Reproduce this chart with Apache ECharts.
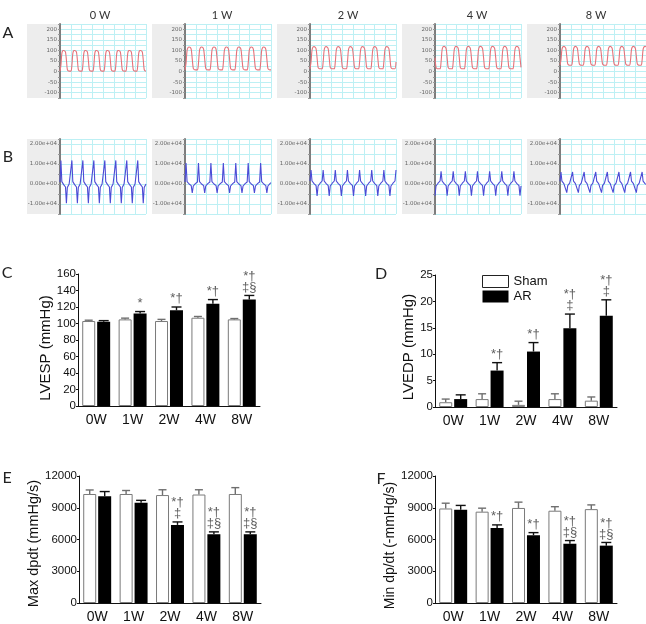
<!DOCTYPE html>
<html>
<head>
<meta charset="utf-8">
<script src="https://cdn.jsdelivr.net/npm/echarts@6/dist/echarts.min.js"></script>
<style>
  html, body { margin: 0; padding: 0; background: #fff; }
  #chart { width: 646px; height: 624px; }
</style>
</head>
<body>
<div id="chart"></div>
<script>
// time points
const weeks = ['0 W', '1 W', '2 W', '4 W', '8 W'];
const categories = ['0W', '1W', '2W', '4W', '8W'];

// A: LV pressure, one beat per array (mmHg)
const pressureBeat0W = [2, 30, 85, 99, 100, 98, 92, 55, 10, 3, 2, 2];
const pressureBeat1W = [8, 40, 100, 114, 116, 114, 105, 60, 15, 9, 8, 8];
const pressureBeat2W = [13, 45, 102, 116, 118, 116, 108, 65, 20, 14, 13, 13];
const pressureBeat4W = [13, 45, 103, 117, 119, 117, 109, 66, 20, 14, 13, 13];
const pressureBeat8W = [30, 55, 105, 117, 119, 117, 110, 72, 36, 31, 30, 30];
// B: dP/dt, one beat per array (mmHg/s)
const dpdtBeat0W = [1000, 11800, 1200, 300, -300, -900, -1500, -9600, -1800, -800, 0, 600];
const dpdtBeat1W = [1000, 10500, 1200, 400, 0, -400, -800, -4500, -1000, -400, 200, 700];
const dpdtBeat2W = [1500, 7000, 1500, 800, 200, -300, -800, -6000, -1000, -300, 400, 1000];
const dpdtBeat4W = [1500, 6400, 1500, 800, 200, -300, -800, -5800, -1000, -300, 400, 1000];
const dpdtBeat8W = [1400, 6000, 1400, 800, 200, -200, -600, -4300, -800, -200, 400, 900];
// samples shown in each trace window and starting phase
const traceSamples = [95, 84, 86, 86, 90];
const tracePhase = [0, 0, 0, 7, 0];

// C: LVESP (mmHg)
const lvespSham = [103, 105, 103, 107, 105];
const lvespShamErr = [1, 1.5, 2, 1.5, 1];
const lvespAR = [102, 112, 116, 124, 129];
const lvespARErr = [1.5, 2.5, 4, 5, 5];
const lvespMarks = [[], ['*'], ['*†'], ['*†'], ['*†', '‡§']];

// D: LVEDP (mmHg)
const lvedpSham = [0.9, 1.5, 0.4, 1.5, 1.2];
const lvedpShamErr = [0.6, 1, 0.7, 1, 0.7];
const lvedpAR = [1.5, 6.9, 10.5, 14.9, 17.3];
const lvedpARErr = [0.8, 1.5, 1.7, 2.7, 3];
const lvedpMarks = [[], ['*†'], ['*†'], ['*†', '‡'], ['*†', '‡']];

// E: Max dp/dt (mmHg/s)
const maxSham = [10300, 10300, 10200, 10250, 10300];
const maxShamErr = [380, 330, 500, 450, 600];
const maxAR = [10080, 9480, 7380, 6500, 6500];
const maxARErr = [450, 220, 280, 220, 220];
const maxMarks = [[], [], ['*†', '‡'], ['*†', '‡§'], ['*†', '‡§']];

// F: Min dp/dt (-mmHg/s)
const minSham = [8930, 8630, 8980, 8720, 8870];
const minShamErr = [500, 330, 550, 380, 400];
const minAR = [8820, 7080, 6400, 5600, 5420];
const minARErr = [400, 300, 250, 300, 300];
const minMarks = [[], ['*†'], ['*†'], ['*†', '‡§'], ['*†', '‡§']];

const pressureBeats = [pressureBeat0W, pressureBeat1W, pressureBeat2W, pressureBeat4W, pressureBeat8W];
const dpdtBeats = [dpdtBeat0W, dpdtBeat1W, dpdtBeat2W, dpdtBeat4W, dpdtBeat8W];

function traceData(beat, n, phase) {
  const out = [];
  for (let i = 0; i < n; i++) out.push([i, beat[(i + phase) % beat.length]]);
  return out;
}

function expLabel(v) {
  if (v % 10000 !== 0) return '';
  return v.toExponential(2).replace(/e([+-])(\d)$/, 'e$10$2');
}

const chart = echarts.init(document.getElementById('chart'));

const waveLeft = [60, 185, 310, 435, 560];
const waveW = 86;
const rowA = { top: 24, height: 74 };
const rowB = { top: 139, height: 75 };
const cyan = '#bdf0f4';

const grids = [], xAxes = [], yAxes = [], series = [], graphics = [];

// waveform panels
[rowA, rowB].forEach((row, r) => {
  waveLeft.forEach((left, i) => {
    const g = grids.length;
    grids.push({ left: left, top: row.top, width: waveW, height: row.height, show: true, backgroundColor: '#fff', borderWidth: 0 });
    graphics.push({ type: 'rect', z: -10, shape: { x: left - 33, y: row.top, width: 33, height: row.height }, style: { fill: '#ededed' } });
    const n = traceSamples[i];
    xAxes.push({
      gridIndex: g, type: 'value', min: 0, max: n - 1, interval: (n - 1) / 8,
      axisLine: { show: false }, axisTick: { show: false }, axisLabel: { show: false },
      splitLine: { show: true, lineStyle: { color: cyan, width: 1 } }
    });
    yAxes.push(r === 0 ? {
      gridIndex: g, type: 'value', min: -125, max: 225, interval: 25,
      axisLine: { show: true, lineStyle: { color: '#7d7d7d', width: 2 } },
      axisTick: { show: true, length: 2, lineStyle: { color: '#999' } },
      axisLabel: { fontSize: 5.5, color: '#666', margin: 3, fontFamily: 'DejaVu Sans',
        formatter: v => (v % 50 === 0 && v >= -100 && v <= 200) ? String(v) : '' },
      splitLine: { show: true, lineStyle: { color: cyan, width: 1 } }
    } : {
      gridIndex: g, type: 'value', min: -15000, max: 22500, interval: 5000,
      axisLine: { show: true, lineStyle: { color: '#7d7d7d', width: 2 } },
      axisTick: { show: true, length: 2, lineStyle: { color: '#999' } },
      axisLabel: { fontSize: 5.5, color: '#666', margin: 3, fontFamily: 'DejaVu Sans', formatter: expLabel },
      splitLine: { show: true, lineStyle: { color: cyan, width: 1 } }
    });
    series.push({
      type: 'line', xAxisIndex: g, yAxisIndex: g, showSymbol: false, silent: true,
      smooth: r === 0 ? 0.35 : false,
      data: traceData(r === 0 ? pressureBeats[i] : dpdtBeats[i], n, tracePhase[i]),
      lineStyle: { color: r === 0 ? '#e5737b' : '#4b4bd6', width: 1.1 }
    });
  });
});

// bar panels
const barPanels = [
  { left: 78, top: 274, max: 160, interval: 20, name: 'LVESP (mmHg)', gap: 25, size: 15, shift: 16, sham: lvespSham, shamErr: lvespShamErr, ar: lvespAR, arErr: lvespARErr, marks: lvespMarks },
  { left: 435, top: 275, max: 25, interval: 5, name: 'LVEDP (mmHg)', gap: 18, size: 15, shift: 12, sham: lvedpSham, shamErr: lvedpShamErr, ar: lvedpAR, arErr: lvedpARErr, marks: lvedpMarks },
  { left: 79, top: 476, max: 12000, interval: 3000, name: 'Max dpdt (mmHg/s)', gap: 30, size: 14.5, shift: 8, sham: maxSham, shamErr: maxShamErr, ar: maxAR, arErr: maxARErr, marks: maxMarks },
  { left: 435, top: 476, max: 12000, interval: 3000, name: 'Min dp/dt (-mmHg/s)', gap: 27, size: 14, shift: 12, sham: minSham, shamErr: minShamErr, ar: minAR, arErr: minARErr, marks: minMarks }
];

const barW = 13;

function errorBars(name, g, vals, errs, dx, color, capHalf, marks) {
  return {
    type: 'custom', name: name, xAxisIndex: g, yAxisIndex: g, z: 5, silent: true,
    data: vals.map((v, i) => [i, v, errs[i]]),
    renderItem: (params, api) => {
      const i = api.value(0), v = api.value(1), e = api.value(2);
      const base = api.coord([i, v]);
      const top = api.coord([i, v + e]);
      const x = base[0] + dx;
      const children = [
        { type: 'line', shape: { x1: x, y1: base[1], x2: x, y2: top[1] }, style: { stroke: color, lineWidth: 1.4 } },
        { type: 'line', shape: { x1: x - capHalf, y1: top[1], x2: x + capHalf, y2: top[1] }, style: { stroke: color, lineWidth: 1.4 } }
      ];
      const lines = marks ? marks[params.dataIndex] : [];
      lines.forEach((t, k) => {
        children.push({
          type: 'text', x: x, y: top[1] - 2 - (lines.length - 1 - k) * 11,
          style: { text: t, fill: '#5e5e5e', font: '13px "Liberation Sans"', textAlign: 'center', textVerticalAlign: 'bottom' }
        });
      });
      return { type: 'group', children: children };
    }
  };
}

barPanels.forEach(p => {
  const g = grids.length;
  grids.push({ left: p.left, top: p.top, width: 182, height: 132 });
  xAxes.push({
    gridIndex: g, type: 'category', data: categories,
    axisLine: { show: true, lineStyle: { color: '#111', width: 1 } },
    axisTick: { show: false },
    axisLabel: { fontSize: 14, color: '#111', margin: 7, fontFamily: 'Liberation Sans' }
  });
  yAxes.push({
    gridIndex: g, type: 'value', min: 0, max: p.max, interval: p.interval,
    name: p.name, nameLocation: 'middle', nameGap: p.gap,
    nameTextStyle: { fontSize: p.size, color: '#111', fontFamily: 'Liberation Sans', padding: [0, p.shift, 0, 0] },
    axisLine: { show: true, lineStyle: { color: '#111', width: 1 } },
    axisTick: { show: true, length: 2, lineStyle: { color: '#111' } },
    axisLabel: { fontSize: 11.5, color: '#111', margin: 2, fontFamily: 'Liberation Sans', formatter: v => String(v) },
    splitLine: { show: false }
  });
  series.push({
    type: 'bar', name: 'Sham', xAxisIndex: g, yAxisIndex: g, data: p.sham,
    barWidth: barW, barGap: '15%',
    itemStyle: { color: '#fff', borderColor: '#7a7a7a', borderWidth: 1 }
  });
  series.push({
    type: 'bar', name: 'AR', xAxisIndex: g, yAxisIndex: g, data: p.ar,
    barWidth: barW, barGap: '15%',
    itemStyle: { color: '#000' }
  });
  series.push(errorBars('shamErr' + g, g, p.sham, p.shamErr, -(barW / 2 + 1), '#6f6f6f', 4, null));
  series.push(errorBars('arErr' + g, g, p.ar, p.arErr, barW / 2 + 1, '#111', 5, p.marks));
});

// week titles and panel letters
const titleX = [100, 222, 348, 477, 596];
weeks.forEach((w, i) => {
  graphics.push({ type: 'text', x: titleX[i], y: 15, style: { text: w, fill: '#333', font: '11px Lato', textAlign: 'center', textVerticalAlign: 'middle' } });
});
[['A', 8, 33], ['B', 8, 157], ['C', 7, 273], ['D', 381, 274], ['E', 7, 478], ['F', 381, 479]].forEach(l => {
  graphics.push({ type: 'text', x: l[1], y: l[2], style: { text: l[0], fill: '#222', font: '16px Lato', textAlign: 'center', textVerticalAlign: 'middle' } });
});

chart.setOption({
  animation: false,
  backgroundColor: '#fff',
  grid: grids,
  xAxis: xAxes,
  yAxis: yAxes,
  series: series,
  graphic: graphics,
  legend: {
    left: 477, top: 270, orient: 'vertical', itemGap: 2, itemWidth: 26, itemHeight: 12,
    icon: 'rect', selectedMode: false,
    textStyle: { fontSize: 13, color: '#111', fontFamily: 'Liberation Sans' },
    data: [
      { name: 'Sham', itemStyle: { color: '#fff', borderColor: '#222', borderWidth: 1 } },
      { name: 'AR', itemStyle: { color: '#000' } }
    ]
  }
});
</script>
</body>
</html>
